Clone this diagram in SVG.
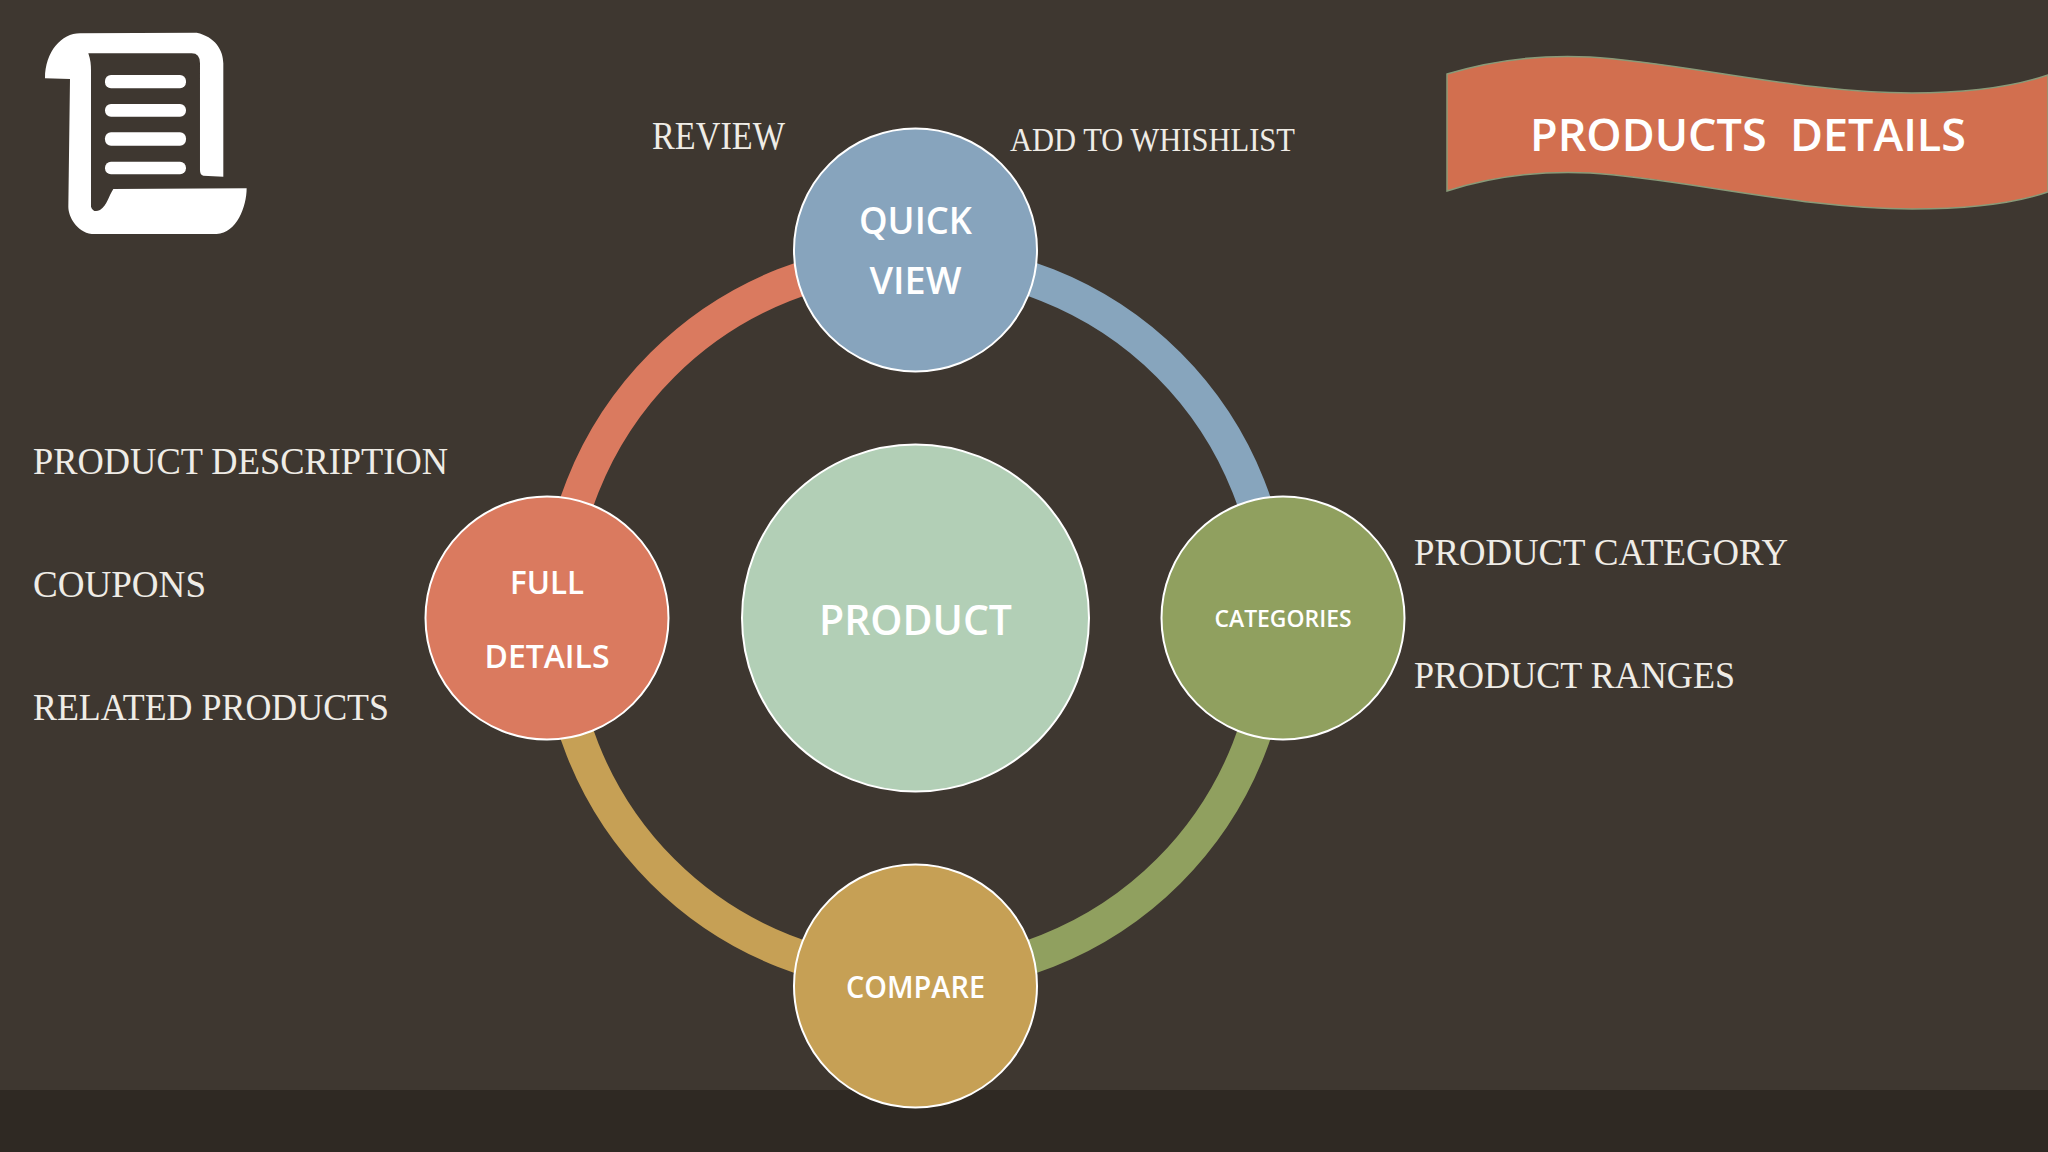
<svg xmlns="http://www.w3.org/2000/svg" width="2048" height="1152" viewBox="0 0 2048 1152">
<style>
.node{stroke:#fff;stroke-width:2}
.arc{fill:none;stroke-width:34}
.s{font-family:"Open Sans","Noto Sans",sans-serif;fill:#fff;text-anchor:middle;font-weight:600}
.g{font-family:"Liberation Serif",serif;fill:#efece6;font-size:37px}
</style>
<rect width="2048" height="1152" fill="#3e3730"/>
<rect y="1090" width="2048" height="62" fill="#2f2923"/>
<g id="icon" transform="translate(20 10) scale(.3333)" fill="#fff">
<path d="M75,205 C75,125 125,70 180,70 L530,68 C585,80 610,120 610,160 L610,500 L550,497 Q540,495 540,480 L540,160 Q540,130 515,130 L205,130 C212,150 213,165 213,180 L213,590 Q220,610 240,600 C262,585 265,560 280,537 L680,535 C680,590 650,670 590,672 L215,672 C170,665 145,620 145,590 L150,207 Z"/>
<rect x="255" y="195" width="243" height="40" rx="18"/>
<rect x="255" y="282" width="243" height="38" rx="18"/>
<rect x="255" y="367" width="243" height="40" rx="18"/>
<rect x="255" y="455" width="243" height="38" rx="18"/>
</g>
<g id="banner">
<path d="M1447,74 C1500,58 1550,55 1590,57 C1680,62 1800,93 1912,93 C1960,93 2010,88 2048,75 L2048,192 C2010,205 1960,209 1912,209 C1800,209 1680,178 1590,173 C1550,171 1500,174 1447,191 Z" fill="#d26f4f" stroke="#8a9a78" stroke-width="1.5"/>
<text class="s" x="1748" y="151" font-size="46" textLength="436" lengthAdjust="spacingAndGlyphs" xml:space="preserve">PRODUCTS  DETAILS</text>
</g>
<g id="connectors">
<path class="arc" stroke="#87a5bd" d="M915.5,260 A358,358 0 0 1 1273.5,618"/>
<path class="arc" stroke="#90a05f" d="M1273.5,618 A358,358 0 0 1 915.5,976"/>
<path class="arc" stroke="#c6a055" d="M915.5,976 A358,358 0 0 1 557.5,618"/>
<path class="arc" stroke="#da7a5f" d="M557.5,618 A358,358 0 0 1 915.5,260"/>
</g>
<g id="product"><circle class="node" cx="915.5" cy="618" r="173.5" fill="#b2cfb6"/>
<text class="s" x="915.5" y="635" font-size="42" textLength="193" lengthAdjust="spacingAndGlyphs">PRODUCT</text></g>
<g id="quick-view"><circle class="node" cx="915.5" cy="250" r="121.5" fill="#87a4bd"/>
<text class="s" x="915.5" y="234" font-size="37" textLength="113" lengthAdjust="spacingAndGlyphs">QUICK</text>
<text class="s" x="915.5" y="294" font-size="37" textLength="92" lengthAdjust="spacingAndGlyphs">VIEW</text></g>
<g id="categories"><circle class="node" cx="1283" cy="618" r="121.5" fill="#90a05f"/>
<text class="s" x="1283" y="627" font-size="24" textLength="137" lengthAdjust="spacingAndGlyphs">CATEGORIES</text></g>
<g id="compare"><circle class="node" cx="915.5" cy="986" r="121.5" fill="#c6a055"/>
<text class="s" x="915.5" y="998" font-size="30" textLength="139" lengthAdjust="spacingAndGlyphs">COMPARE</text></g>
<g id="full-details"><circle class="node" cx="547" cy="618" r="121.5" fill="#da7a5f"/>
<text class="s" x="547" y="594" font-size="32" textLength="74" lengthAdjust="spacingAndGlyphs">FULL</text>
<text class="s" x="547" y="668" font-size="32" textLength="125" lengthAdjust="spacingAndGlyphs">DETAILS</text></g>
<g id="notes">
<text class="g" x="652" y="149" style="font-size:39px" textLength="133" lengthAdjust="spacingAndGlyphs">REVIEW</text>
<text class="g" x="1010" y="151" style="font-size:33px" textLength="285" lengthAdjust="spacingAndGlyphs">ADD TO WHISHLIST</text>
<text class="g" x="33" y="474" textLength="415" lengthAdjust="spacingAndGlyphs">PRODUCT DESCRIPTION</text>
<text class="g" x="33" y="597" textLength="173" lengthAdjust="spacingAndGlyphs">COUPONS</text>
<text class="g" x="33" y="720" textLength="356" lengthAdjust="spacingAndGlyphs">RELATED PRODUCTS</text>
<text class="g" x="1414" y="565" textLength="374" lengthAdjust="spacingAndGlyphs">PRODUCT CATEGORY</text>
<text class="g" x="1414" y="688" textLength="321" lengthAdjust="spacingAndGlyphs">PRODUCT RANGES</text>
</g>
</svg>
